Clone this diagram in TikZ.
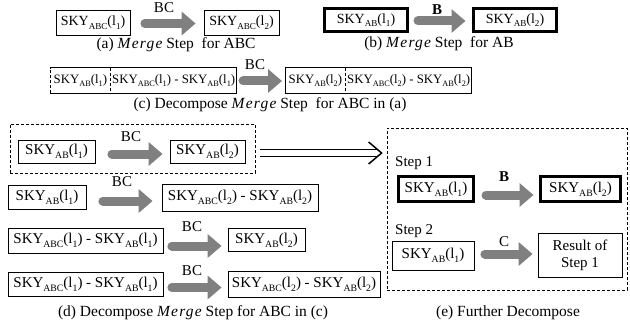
\documentclass[tikz,border=0pt]{standalone}
\usepackage{fontspec}
\setmainfont{Liberation Serif}
\usetikzlibrary{arrows.meta,calc}
\definecolor{arrgray}{RGB}{128,128,128}
\makeatletter
\newcommand{\sbs}[1]{\raisebox{-0.25em}{\fontsize{\the\dimexpr0.65\dimexpr\f@size pt\relax\relax}{1pt}\selectfont #1}}
\makeatother
\newcommand{\sk}[2]{SKY\sbs{#1}(l\sbs{#2})}
\newcommand{\mrg}{{\itshape\addfontfeatures{LetterSpace=8}Merge}}
\begin{document}
\begin{tikzpicture}[x=1pt,y=-1pt,
 box/.style={draw, line width=0.8pt, inner xsep=0pt, inner ysep=0pt, minimum height=24pt, font=\fontsize{15}{17}\selectfont},
 thickbox/.style={box, line width=3pt},
 part/.style={box, draw=none, font=\fontsize{12.8}{15}\selectfont},
 lbl/.style={inner sep=0pt, font=\fontsize{15}{17}\selectfont},
 blbl/.style={inner sep=0pt, font=\fontsize{15}{17}\selectfont\bfseries},
 captxt/.style={inner sep=0pt, font=\fontsize{15.5}{18}\selectfont},
 garrow/.style={draw=arrgray, line width=9pt, line cap=round, -{Triangle[length=14pt,width=23pt]}},
 dsh/.style={line width=0.8pt, dash pattern=on 3pt off 2pt},
 grp/.style={draw, dsh, inner sep=0pt},
 solid line/.style={line width=0.8pt}]
\useasboundingbox (0,0) rectangle (630,329);

% (a)
\node[box, minimum width=74pt, minimum height=25pt, font=\fontsize{14}{16}\selectfont] (a1) at (93,22.5) {\sk{ABC}{1}};
\node[box, minimum width=75pt, minimum height=25pt, font=\fontsize{14}{16}\selectfont] (a2) at (241.5,22.5) {\sk{ABC}{2}};
\node[lbl] (la) at (164,8) {BC};
\draw[garrow] ($(a1.east)+(14.5,1)$) -- ($(a2.west)+(-8,1)$);
\node[captxt] (ca) at (176,45) {(a) \mrg\ Step\ \ for ABC};

% (b)
\node[thickbox, minimum width=83pt, minimum height=23pt, font=\fontsize{14}{16}\selectfont] (b1) at (366,20) {\sk{AB}{1}};
\node[thickbox, minimum width=83pt, minimum height=23pt, font=\fontsize{14}{16}\selectfont] (b2) at (515,20) {\sk{AB}{2}};
\node[blbl] (lb) at (437,10) {B};
\draw[garrow] ($(b1.east)+(9,1)$) -- ($(b2.west)+(-6.5,1)$);
\node[captxt] (cb) at (439,44) {(b) \mrg\ Step\ \ for AB};

% (c)
\node[part, minimum width=60pt, minimum height=25pt, anchor=west] (cL1) at (50,80.5) {\sk{AB}{1}};
\node[part, minimum width=125pt, minimum height=25pt, anchor=west] (cL2) at (cL1.east) {\sk{ABC}{1} - \sk{AB}{1}};
\draw[solid line] (cL1.north west) -- (cL2.north east) -- (cL2.south east) -- (cL1.south west);
\draw[dsh] (cL1.south west) -- (cL1.north west);
\draw[dsh] (cL1.north east) -- (cL1.south east);
\node[part, minimum width=60pt, minimum height=25pt, anchor=west] (cR1) at (285,80.5) {\sk{AB}{2}};
\node[part, minimum width=125pt, minimum height=25pt, anchor=west] (cR2) at (cR1.east) {\sk{ABC}{2} - \sk{AB}{2}};
\draw[solid line] (cR1.north west) rectangle (cR2.south east);
\draw[dsh] (cR1.north east) -- (cR1.south east);
\node[lbl] (lc) at (255,65) {BC};
\draw[garrow] ($(cL2.east)+(6.5,0.5)$) -- ($(cR1.west)+(-3,0.5)$);
\node[captxt] (cc) at (270,105) {(c) Decompose \mrg\ Step\ \ for ABC in (a)};

% (d)
\node[grp, minimum width=245pt, minimum height=49pt] (dg) at (132.5,148.5) {};
\node[box, minimum width=77pt, minimum height=23pt] (d1L) at (56.5,151.5) {\sk{AB}{1}};
\node[box, minimum width=75pt, minimum height=23pt] (d1R) at (207.5,151.5) {\sk{AB}{2}};
\node[lbl] (ld1) at (131,137) {BC};
\draw[garrow] ($(d1L.east)+(16.5,2.5)$) -- ($(d1R.west)+(-7,2.5)$);

\node[box, minimum width=78pt, minimum height=24pt] (d2L) at (47,197.5) {\sk{AB}{1}};
\node[box, minimum width=156pt, minimum height=27pt] (d2R) at (240,197.5) {\sk{ABC}{2} - \sk{AB}{2}};
\node[lbl] (ld2) at (122,182) {BC};
\draw[garrow] ($(d2L.east)+(16.5,3.5)$) -- ($(d2R.west)+(-9,3.5)$);

\node[box, minimum width=155pt, minimum height=25pt] (d3L) at (85.5,240.5) {\sk{ABC}{1} - \sk{AB}{1}};
\node[box, minimum width=77pt, minimum height=23pt] (d3R) at (266.5,240) {\sk{AB}{2}};
\node[lbl] (ld3) at (192,227) {BC};
\draw[garrow] ($(d3L.east)+(8.5,5.5)$) -- ($(d3R.west)+(-6,6)$);

\node[box, minimum width=155pt, minimum height=24pt] (d4L) at (85.5,284.5) {\sk{ABC}{1} - \sk{AB}{1}};
\node[box, minimum width=152pt, minimum height=26pt] (d4R) at (304,284.5) {\sk{ABC}{2} - \sk{AB}{2}};
\node[lbl] (ld4) at (192,271) {BC};
\draw[garrow] ($(d4L.east)+(8.5,3)$) -- ($(d4R.west)+(-6,3)$);
\node[captxt] (cd) at (193,313) {(d) Decompose \mrg\ Step for ABC in (c)};

% (e)
\node[grp, minimum width=240pt, minimum height=162pt] (eg) at (507,209) {};
\node[lbl, anchor=west] (s1) at (395,163) {Step 1};
\node[thickbox, minimum width=75pt, minimum height=25pt] (e1L) at (436,189) {\sk{AB}{1}};
\node[thickbox, minimum width=80pt, minimum height=25pt] (e1R) at (580.5,189) {\sk{AB}{2}};
\node[blbl] (le1) at (504,177) {B};
\draw[garrow] ($(e1L.east)+(11,6)$) -- ($(e1R.west)+(-5.5,6)$);

\node[lbl, anchor=west] (s2) at (395,231) {Step 2};
\node[box, minimum width=82pt, minimum height=29pt] (e2L) at (433,255.5) {\sk{AB}{1}};
\node[box, minimum height=44pt, minimum width=84pt, align=center] (e2R) at (580,255) {Result of\\Step 1};
\node[lbl] (le2) at (504,242) {C};
\draw[garrow] ($(e2L.east)+(10.5,-1.5)$) -- ($(e2R.west)+(-5,-1)$);
\node[captxt] (ce) at (508,313) {(e) Further Decompose};

% double arrow
\coordinate (ds) at ($(dg.east)+(5,4.5)$);
\coordinate (dt) at ($(eg.west |- ds)+(-5,0)$);
\draw[line width=1.4pt] ($(ds)+(0,-3.5)$) -- ($(dt)+(-4,-3.5)$);
\draw[line width=1.4pt] ($(ds)+(0,3.5)$) -- ($(dt)+(-4,3.5)$);
\draw[line width=1.5pt, line join=miter] ($(dt)+(-13,-11)$) -- (dt) -- ($(dt)+(-13,11)$);
\end{tikzpicture}
\end{document}
